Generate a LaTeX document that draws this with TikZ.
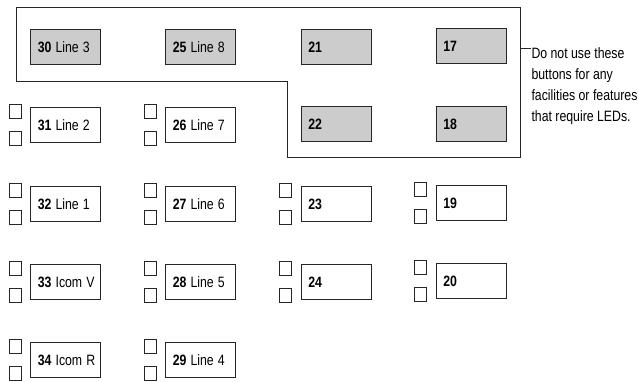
\documentclass[tikz,border=0pt]{standalone}
\usepackage{fontspec}
\usepackage{graphicx}
\setmainfont{Liberation Sans}
\newcommand\narrow[1]{\scalebox{0.82}[1]{#1}}

\begin{document}
\begin{tikzpicture}[x=1pt, y=-1pt, line width=1pt,
        btn/.style={draw=black!85, minimum width=70pt, minimum height=35pt,
            inner xsep=7.3pt, text width=55.4pt, align=left,
            font=\fontsize{15}{18}\selectfont},
        gbtn/.style={btn, fill=gray!40},
        led/.style={draw=black!85, minimum width=12pt, minimum height=14pt, inner sep=0pt}]
    \useasboundingbox (0,0) rectangle (639,382);

    % area without LEDs
    \draw[black!85] (16,8) -- (520,8) -- (520,158) -- (287,158) -- (287,82) -- (16,82) -- cycle;

    \node[gbtn] (b30) at (65.5,47) {\narrow{\textbf{30} Line 3}};
    \node[gbtn] (b25) at (200.5,47) {\narrow{\textbf{25} Line 8}};
    \node[gbtn] (b21) at (336,47) {\narrow{\textbf{21}}};
    \node[gbtn] (b17) at (471,46) {\narrow{\textbf{17}}};
    \node[gbtn] (b22) at (336,124.5) {\narrow{\textbf{22}}};
    \node[gbtn] (b18) at (471,124) {\narrow{\textbf{18}}};

    \node[btn] (b31) at (65.5,125.5) {\narrow{\textbf{31} Line 2}};
    \node[btn] (b32) at (65.5,204) {\narrow{\textbf{32} Line 1}};
    \node[btn] (b33) at (65.5,282) {\narrow{\textbf{33} Icom V}};
    \node[btn] (b34) at (65.5,360) {\narrow{\textbf{34} Icom R}};

    \node[btn] (b26) at (200.5,125.5) {\narrow{\textbf{26} Line 7}};
    \node[btn] (b27) at (200.5,204) {\narrow{\textbf{27} Line 6}};
    \node[btn] (b28) at (200.5,282) {\narrow{\textbf{28} Line 5}};
    \node[btn] (b29) at (200.5,360) {\narrow{\textbf{29} Line 4}};

    \node[btn] (b23) at (336,204) {\narrow{\textbf{23}}};
    \node[btn] (b24) at (336,282) {\narrow{\textbf{24}}};
    \node[btn] (b19) at (471,203) {\narrow{\textbf{19}}};
    \node[btn] (b20) at (471,281) {\narrow{\textbf{20}}};

    % LEDs
    \foreach \b in {31,32,33,34,26,27,28,29,23,24,19,20} {
        \node[led, anchor=north east] (led\b up) at ([xshift=-8.5pt,yshift=3pt]b\b.north west) {};
        \node[led, anchor=south east] (led\b dn) at ([xshift=-8.5pt,yshift=-3pt]b\b.south west) {};
    }

    \coordinate (ledge) at (520,49);
    \node[anchor=north west, inner sep=0pt, font=\fontsize{15}{21}\selectfont] (note) at (531,43)
        {\narrow{\begin{tabular}{@{}l@{}}Do not use these\\buttons for any\\facilities or features\\that require LEDs.\end{tabular}}};
    \draw[black!85] (ledge) -- (ledge -| note.west);
\end{tikzpicture}
\end{document}
